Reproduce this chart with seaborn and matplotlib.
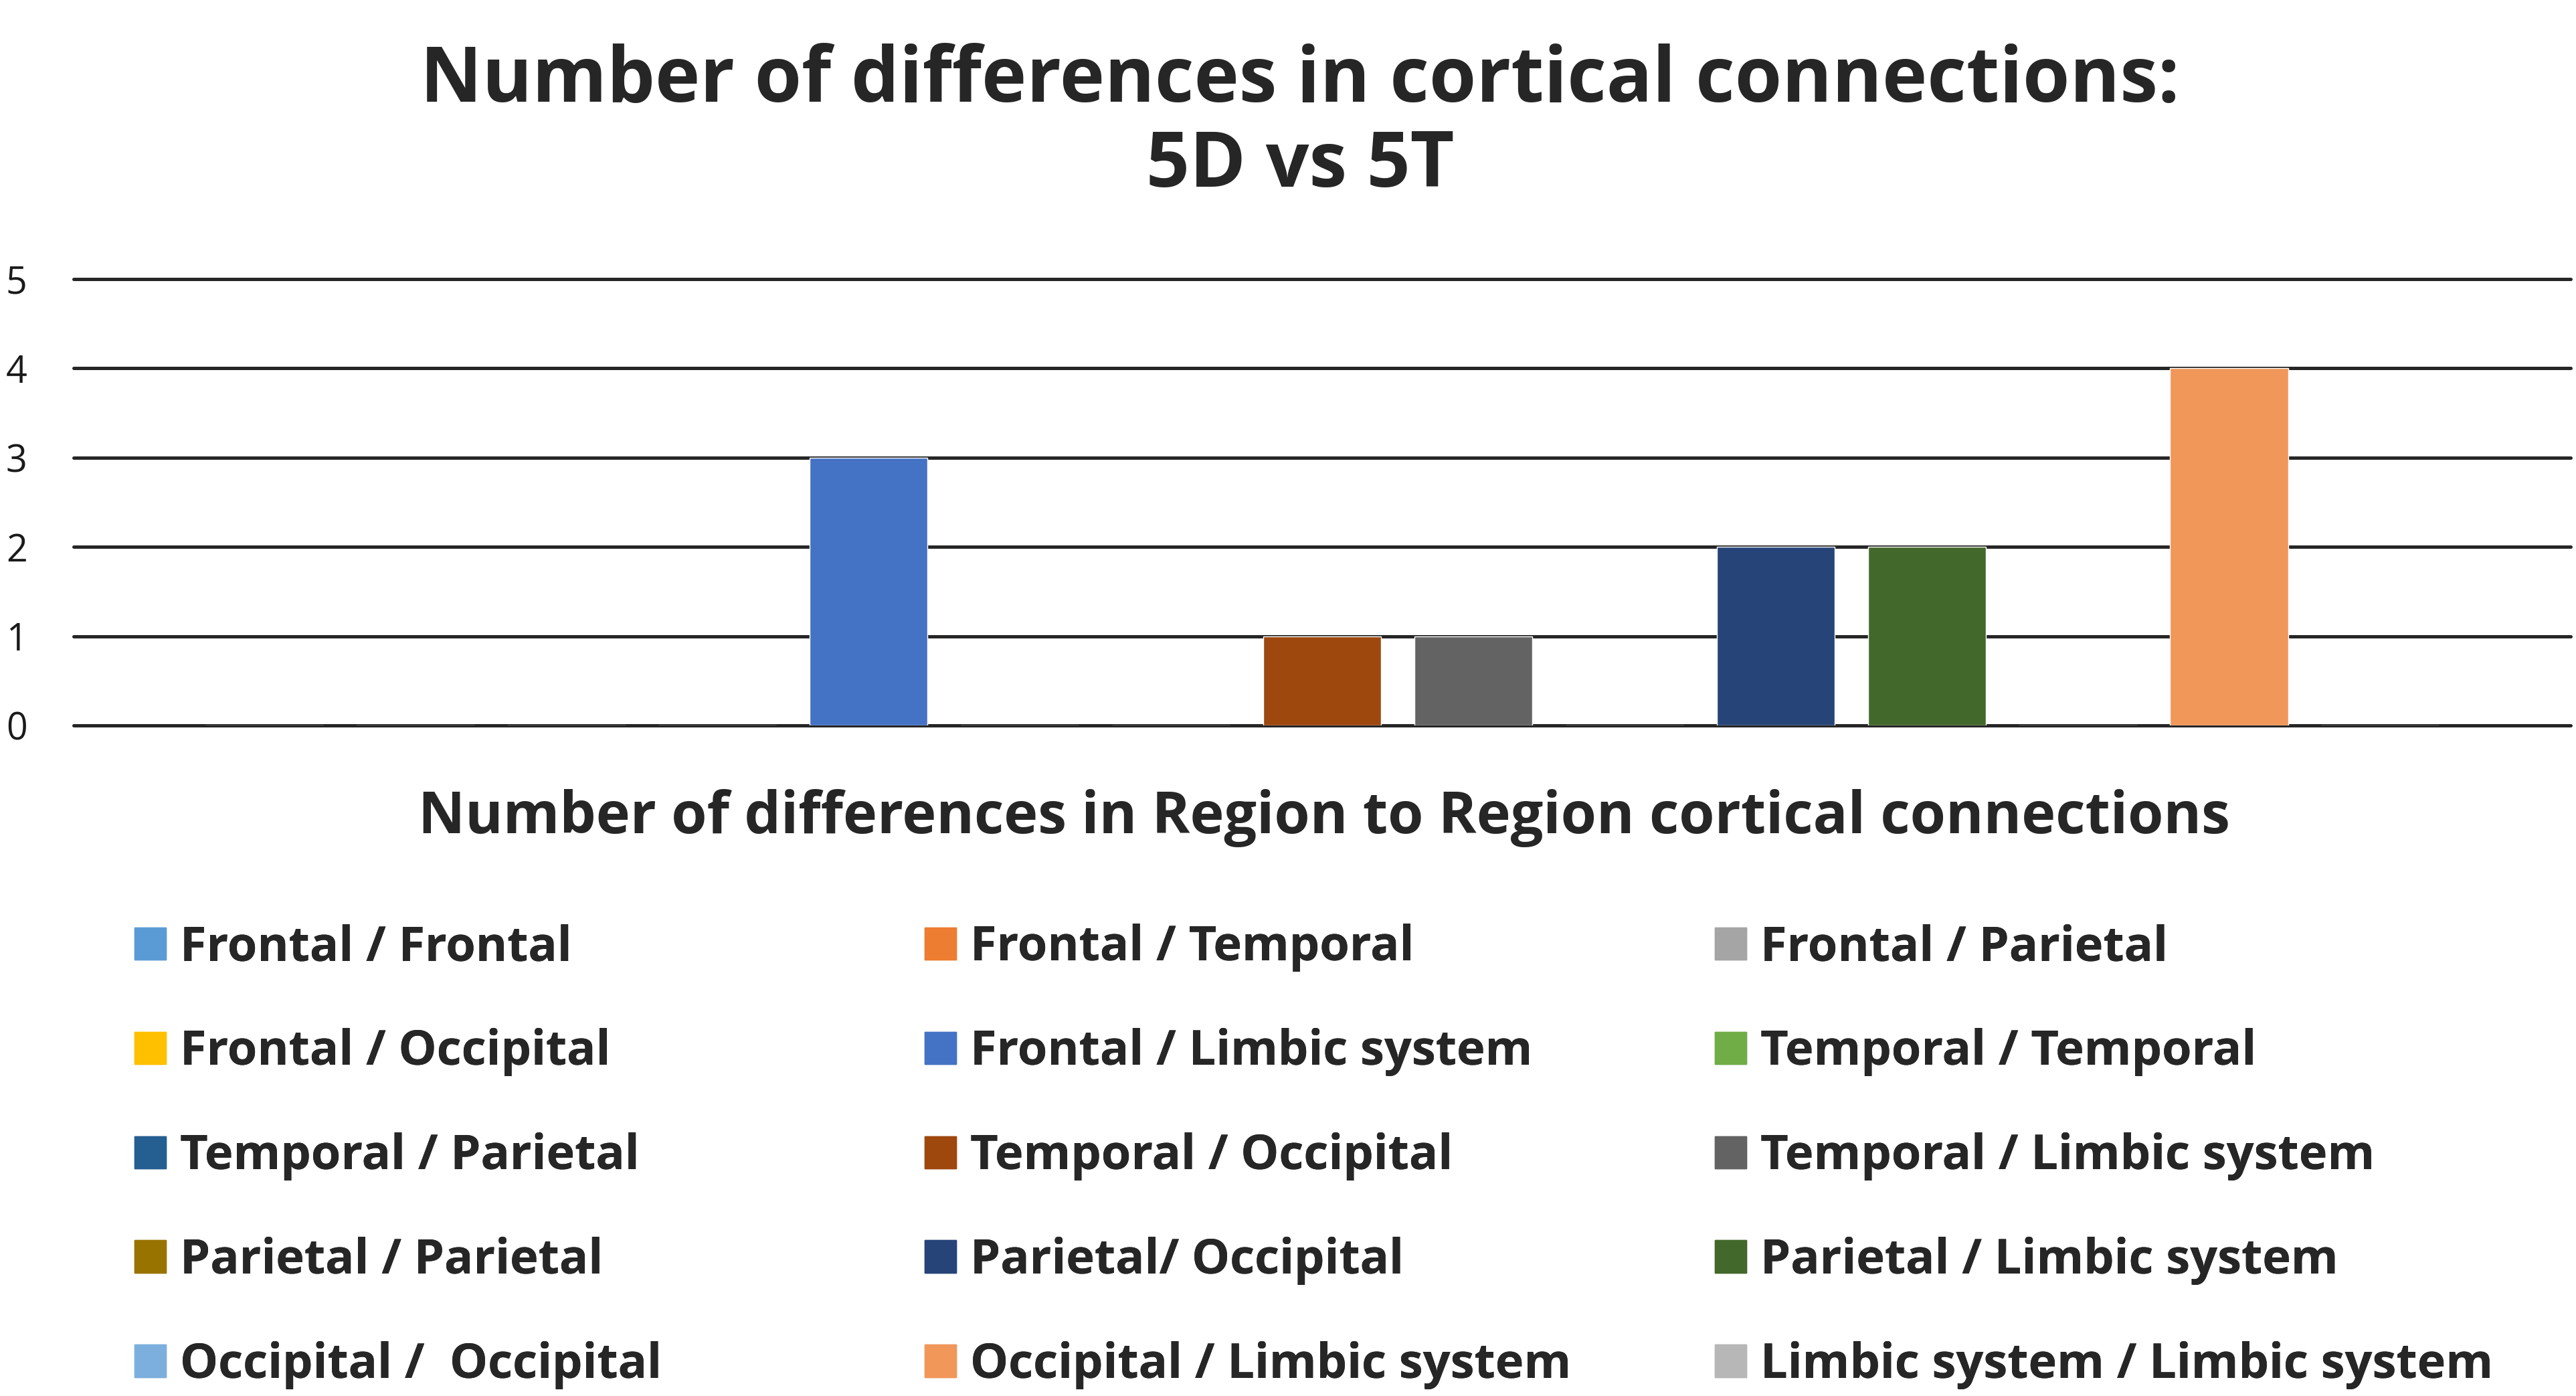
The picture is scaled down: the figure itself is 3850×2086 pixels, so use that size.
import numpy as np
import matplotlib
matplotlib.use("Agg")
import matplotlib.pyplot as plt
import matplotlib.patches as mpatches
import seaborn as sns

# Donnees du graphique
connexions = [
    "Frontal / Frontal", "Frontal / Temporal", "Frontal / Parietal",
    "Frontal / Occipital", "Frontal / Limbic system", "Temporal / Temporal",
    "Temporal / Parietal", "Temporal / Occipital", "Temporal / Limbic system",
    "Parietal / Parietal", "Parietal/ Occipital", "Parietal / Limbic system",
    "Occipital /  Occipital", "Occipital / Limbic system", "Limbic system / Limbic system",
]
nb_differences = [0, 0, 0, 0, 3, 0, 0, 1, 1, 0, 2, 2, 0, 4, 0]
couleurs = [
    "#5B9BD5", "#ED7D31", "#A5A5A5", "#FFC000", "#4472C4",
    "#70AD47", "#255E91", "#9E480E", "#636363", "#997300",
    "#264478", "#43682B", "#7CAFDD", "#F1975A", "#B7B7B7",
]
graduations = [0, 1, 2, 3, 4, 5]

titre_1 = "Number of differences in cortical connections:"
titre_2 = "5D vs 5T"
titre_x = "Number of differences in Region to Region cortical connections"

# Style
sns.set_style("white")
plt.rcParams["font.family"] = ["Open Sans", "DejaVu Sans"]

W, H = 3850, 2086
fig = plt.figure(figsize=(W / 100, H / 100), dpi=100)
ax = fig.add_axes([110 / W, 1 - 1084 / H, (3842 - 110) / W, (1084 - 417) / H])

palette = dict(zip(connexions, couleurs))
sns.barplot(x=connexions, y=nb_differences, hue=connexions, palette=palette,
            width=0.78, legend=False, ax=ax, saturation=1, zorder=3)

ax.set_ylim(0, 5)
ax.set_xlim(-1.26, len(connexions) - 1 + 1.26)
ax.set_yticks(graduations)
ax.set_yticklabels([str(g) for g in graduations], fontsize=40, color="#1a1a1a")
ax.tick_params(axis="y", length=0, pad=50)
ax.set_xticks([])
ax.set_xlabel("")
ax.set_ylabel("")
ax.yaxis.grid(True, color="#262626", linewidth=3.6, zorder=1)
ax.set_axisbelow(True)
for s in ax.spines.values():
    s.set_visible(False)
for gl in ax.get_ygridlines():
    gl.set_clip_on(False)

# Titres
fig.text(1943 / W, 1 - 122 / H, titre_1, ha="center", va="center",
         fontsize=82, fontweight="bold")
fig.text(1943 / W, 1 - 250 / H, titre_2, ha="center", va="center",
         fontsize=82, fontweight="bold")
fig.text(1979 / W, 1 - 1222 / H, titre_x, ha="center", va="center",
         fontsize=62, fontweight="bold")

# Legende en 3 colonnes, ordre par ligne
fs_leg = 51.8
for c in range(3):
    idx = list(range(c, len(connexions), 3))
    handles = [mpatches.Patch(color=couleurs[i], label=connexions[i]) for i in idx]
    leg = fig.legend(handles=handles, loc="center left",
                     bbox_to_anchor=((201 + c * 1181) / W, 1 - 1728 / H),
                     frameon=False, borderpad=0, borderaxespad=0,
                     handlelength=0.66, handleheight=0.66, handletextpad=0.29,
                     labelspacing=1.166, prop={"weight": "bold", "size": fs_leg})
    fig.add_artist(leg)

fig.savefig("out.png", dpi=100, facecolor="white")
